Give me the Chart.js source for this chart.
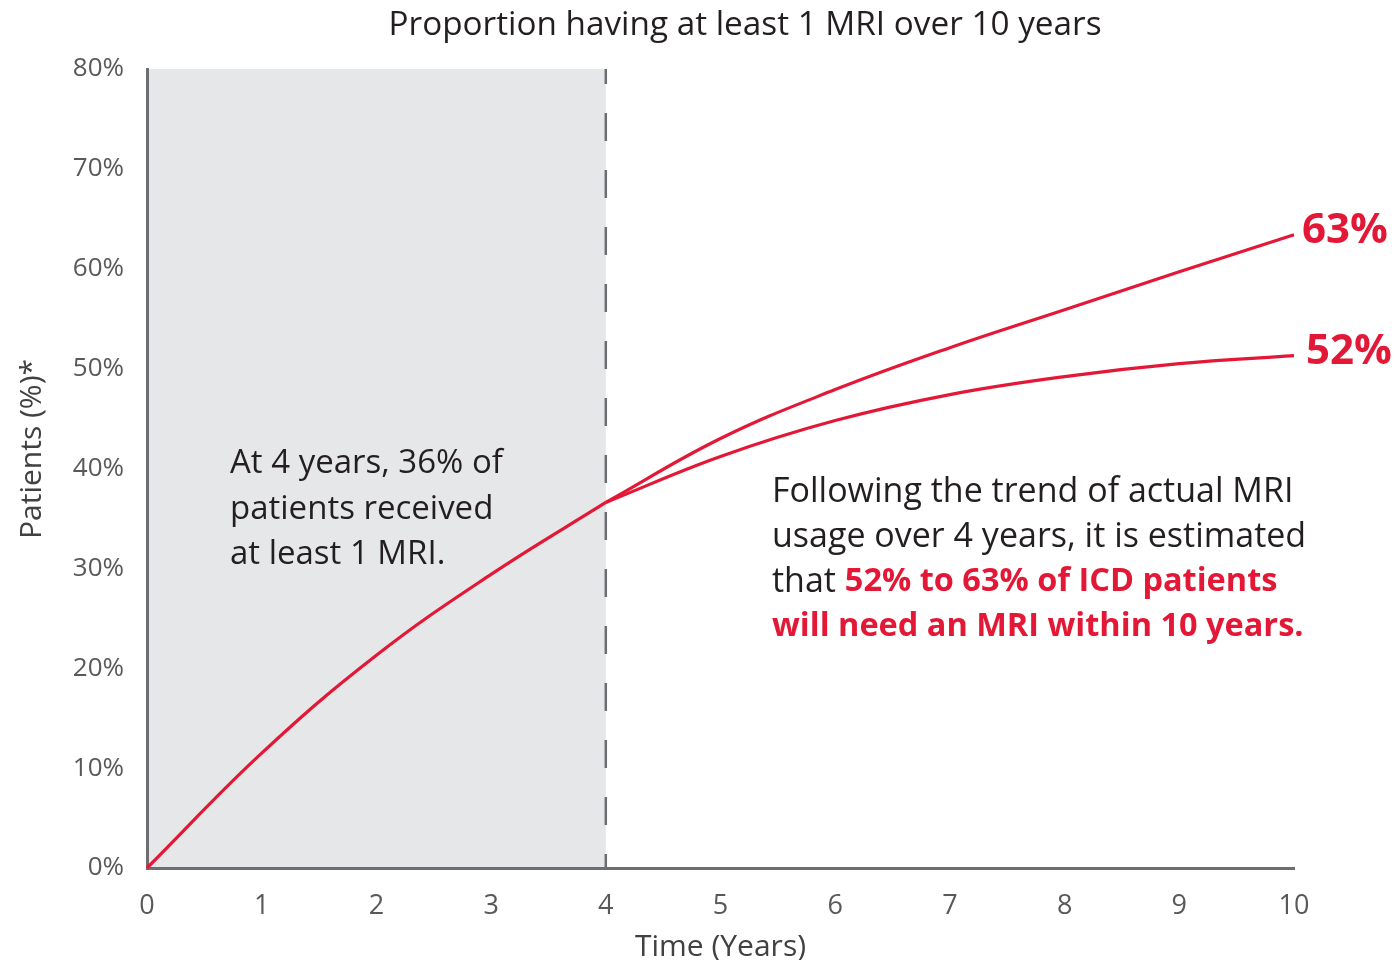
<!DOCTYPE html>
<html>
<head>
<meta charset="utf-8">
<script src="https://cdn.jsdelivr.net/npm/chart.js@4.4.0/dist/chart.umd.min.js"></script>
<style>
  html, body { margin: 0; padding: 0; background: #fff; }
  #wrap { width: 1396px; height: 960px; }
</style>
</head>
<body>
<div id="wrap"><canvas id="mri-chart" width="1396" height="960"></canvas></div>
<script>
// Data
const actualYears = [0, 1, 2, 3, 4];
const actualPct = [0, 11.5, 21.3, 29.4, 36.6];
const projYears = [4, 5, 6, 7, 8, 9, 10];
const highPct = [36.6, 43.0, 47.9, 52.1, 55.9, 59.7, 63.4];
const lowPct = [36.6, 41.2, 44.8, 47.4, 49.2, 50.5, 51.3];
const endLabels = ['63%', '52%'];
const actualEnd = 4;

const FONT = '"Open Sans", "Noto Sans", sans-serif';
const RED = '#e31837';
const INK = '#231f20';
const AXIS = '#6d6e71';

const toPoints = (xs, ys) => xs.map((x, i) => ({ x: x, y: ys[i] }));

const lineStyle = {
    borderColor: RED,
    borderWidth: 3.2,
    pointRadius: 0,
    fill: false,
    clip: false,
    tension: 0.4
};

// Shaded "actual" period, dashed divider, titles and notes
const annotations = {
    id: 'annotations',
    beforeDraw(chart) {
        const { ctx, chartArea, scales: { x } } = chart;
        const x0 = x.getPixelForValue(0);
        const x4 = x.getPixelForValue(actualEnd);
        ctx.save();
        ctx.fillStyle = '#e6e7e8';
        ctx.fillRect(x0, chartArea.top, x4 - x0, chartArea.bottom - chartArea.top);
        ctx.restore();
    },
    beforeDatasetsDraw(chart) {
        const { ctx, chartArea, scales: { x } } = chart;
        const x4 = x.getPixelForValue(actualEnd);
        ctx.save();
        ctx.strokeStyle = AXIS;
        ctx.lineWidth = 2.5;
        ctx.setLineDash([28, 29]);
        ctx.lineDashOffset = 13;
        ctx.beginPath();
        ctx.moveTo(x4, chartArea.top);
        ctx.lineTo(x4, chartArea.bottom);
        ctx.stroke();
        ctx.restore();
    },
    afterDraw(chart) {
        const { ctx, scales: { x, y } } = chart;
        ctx.save();
        ctx.textBaseline = 'middle';

        // chart title
        ctx.fillStyle = INK;
        ctx.textAlign = 'center';
        ctx.font = `33.3px ${FONT}`;
        ctx.fillText('Proportion having at least 1 MRI over 10 years', 745, 26);

        // y axis title
        ctx.save();
        ctx.translate(32, 449);
        ctx.rotate(-Math.PI / 2);
        ctx.fillStyle = '#414042';
        ctx.font = `30px ${FONT}`;
        ctx.fillText('Patients (%)*', 0, 0);
        ctx.restore();

        // note inside the shaded area
        ctx.textAlign = 'left';
        ctx.fillStyle = INK;
        ctx.font = `33px ${FONT}`;
        ['At 4 years, 36% of', 'patients received', 'at least 1 MRI.'].forEach((t, i) => {
            ctx.fillText(t, 230, 464 + i * 45.5);
        });

        // projection note
        const nx = 772;
        ctx.font = `34px ${FONT}`;
        ctx.fillText('Following the trend of actual MRI', nx, 492);
        ctx.fillText('usage over 4 years, it is estimated', nx, 537);
        ctx.fillText('that ', nx, 582);
        const w = ctx.measureText('that ').width;
        ctx.fillStyle = RED;
        ctx.font = `bold 32.5px ${FONT}`;
        ctx.fillText('52% to 63% of ICD patients', nx + w, 582);
        ctx.fillText('will need an MRI within 10 years.', nx, 627);

        // end-of-line labels
        ctx.font = `bold 42px ${FONT}`;
        const xe = x.getPixelForValue(projYears[projYears.length - 1]);
        ctx.fillText(endLabels[0], xe + 8, y.getPixelForValue(highPct[highPct.length - 1]) - 4);
        ctx.fillText(endLabels[1], xe + 12, y.getPixelForValue(lowPct[lowPct.length - 1]) - 4);
        ctx.restore();
    }
};

new Chart(document.getElementById('mri-chart'), {
    type: 'line',
    data: {
        datasets: [
            { label: 'High estimate', data: toPoints(projYears, highPct), ...lineStyle },
            { label: 'Low estimate', data: toPoints(projYears, lowPct), ...lineStyle },
            { label: 'Actual', data: toPoints(actualYears, actualPct), ...lineStyle }
        ]
    },
    options: {
        responsive: false,
        animation: false,
        layout: { padding: { top: 69, right: 102, left: 0, bottom: 0 } },
        plugins: {
            legend: { display: false },
            tooltip: { enabled: false },
            title: { display: false }
        },
        scales: {
            x: {
                type: 'linear',
                min: 0,
                max: 10,
                grid: { display: false },
                border: { display: true, color: AXIS, width: 3 },
                ticks: {
                    stepSize: 1,
                    padding: 14,
                    color: '#58595b',
                    font: { family: FONT, size: 27 }
                },
                title: {
                    display: true,
                    text: 'Time (Years)',
                    color: '#414042',
                    font: { family: FONT, size: 30 },
                    padding: { top: 0, bottom: -5 }
                },
                afterFit(scale) { scale.height = 92; }
            },
            y: {
                min: 0,
                max: 80,
                grid: { display: false },
                border: { display: true, color: AXIS, width: 3 },
                ticks: {
                    stepSize: 10,
                    padding: 15,
                    color: '#58595b',
                    font: { family: FONT, size: 26 },
                    callback: v => v + '%'
                },
                afterFit(scale) { scale.width = 147; }
            }
        }
    },
    plugins: [annotations]
});
</script>
</body>
</html>
